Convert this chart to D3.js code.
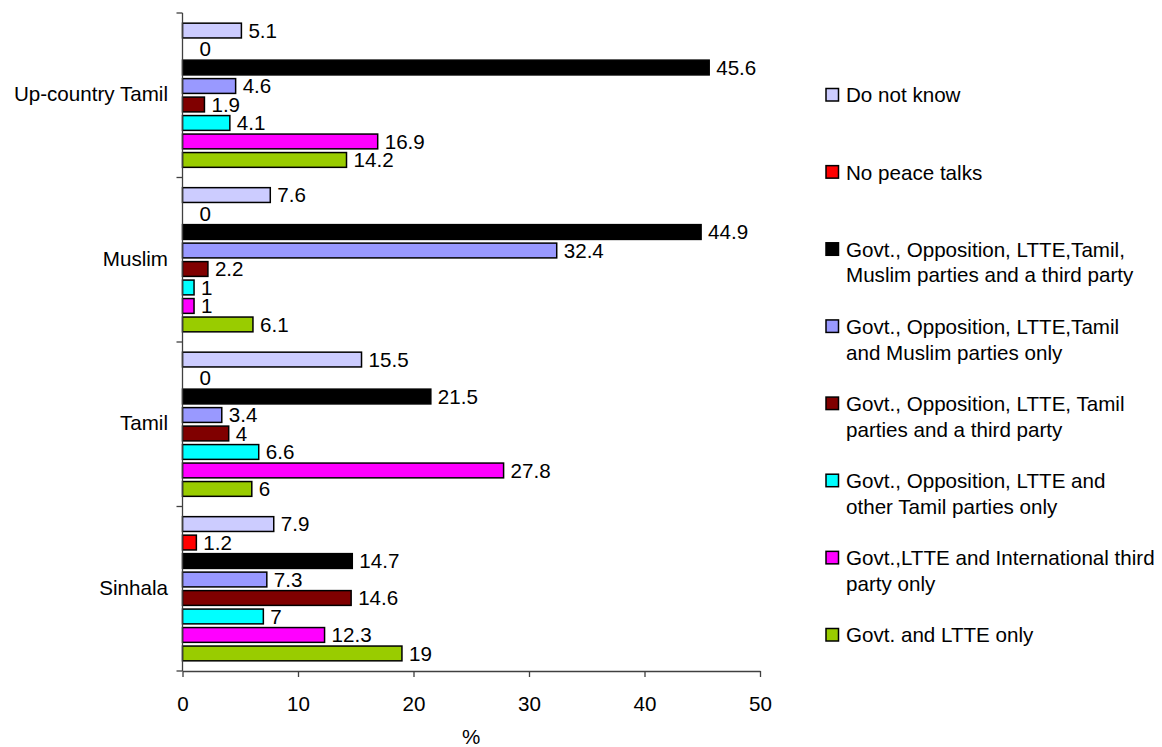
<!DOCTYPE html>
<html>
<head>
<meta charset="utf-8">
<style>
  body { margin: 0; background: #fff; font-family: "Liberation Sans", Arial, sans-serif; }
  svg text { font-family: "Liberation Sans", Arial, sans-serif; font-size: 20.6px; fill: #000; }
</style>
<title>Peace talks participants</title>
</head>
<body>
<script src="https://cdn.jsdelivr.net/npm/d3@7/dist/d3.min.js"></script>
<script>

// categories, top to bottom
var categories = ["Up-country Tamil", "Muslim", "Tamil", "Sinhala"];

// series, in the order the bars appear inside a group (top to bottom)
var seriesNames = [
  "Do not know",
  "No peace talks",
  "Govt., Opposition, LTTE,Tamil,\nMuslim parties and a third party",
  "Govt., Opposition, LTTE,Tamil\nand Muslim parties only",
  "Govt., Opposition, LTTE, Tamil\nparties and a third party",
  "Govt., Opposition, LTTE and\nother Tamil parties only",
  "Govt.,LTTE and International third\nparty only",
  "Govt. and LTTE only"
];
var seriesColors = ["#CCCCFF", "#FF0000", "#000000", "#9999FF", "#800000", "#00FFFF", "#FF00FF", "#99CC00"];

// values per series, one per category (Up-country Tamil, Muslim, Tamil, Sinhala)
var doNotKnow      = [5.1, 7.6, 15.5, 7.9];
var noPeaceTalks   = [0, 0, 0, 1.2];
var allPlusThird   = [45.6, 44.9, 21.5, 14.7];
var allTamilMuslim = [4.6, 32.4, 3.4, 7.3];
var tamilPlusThird = [1.9, 2.2, 4, 14.6];
var otherTamilOnly = [4.1, 1, 6.6, 7];
var intlThirdParty = [16.9, 1, 27.8, 12.3];
var govtLtteOnly   = [14.2, 6.1, 6, 19];
var seriesValues = [doNotKnow, noPeaceTalks, allPlusThird, allTamilMuslim,
                    tamilPlusThird, otherTamilOnly, intlThirdParty, govtLtteOnly];

var xTicks = [0, 10, 20, 30, 40, 50];

var W = 1162, H = 747;
var svg = d3.select("body").append("svg").attr("width", W).attr("height", H);

var x = d3.scaleLinear().domain([0, 50]).range([182.5, 760]);
var y0 = d3.scaleBand().domain(categories).range([13, 671]);
var y1 = d3.scaleBand().domain(d3.range(seriesNames.length))
  .range([0, y0.bandwidth()]).paddingInner(0.2).paddingOuter(0.55);

// bars
var groups = svg.append("g").selectAll("g")
  .data(categories)
  .enter().append("g")
    .attr("transform", d => "translate(0," + y0(d) + ")");

var barData = function(cat, ci) {
  return seriesValues.map((vals, si) => ({ s: si, v: vals[ci] }));
};

groups.selectAll("rect")
  .data(barData)
  .enter().filter(d => d.v > 0).append("rect")
    .attr("x", x(0))
    .attr("y", d => y1(d.s))
    .attr("width", d => x(d.v) - x(0))
    .attr("height", y1.bandwidth())
    .attr("fill", d => seriesColors[d.s])
    .attr("stroke", "#000")
    .attr("stroke-width", 1.5);

// value labels
groups.selectAll("text")
  .data(barData)
  .enter().append("text")
    .attr("x", d => x(d.v) + (d.v === 0 ? 17 : 7))
    .attr("y", d => y1(d.s) + y1.bandwidth() / 2)
    .attr("dy", "0.36em")
    .text(d => d.v);

// y axis: line and ticks at group boundaries
var axisColor = "#404040";
svg.append("line")
  .attr("x1", x(0)).attr("x2", x(0))
  .attr("y1", y0.range()[0]).attr("y2", y0.range()[1])
  .attr("stroke", axisColor).attr("stroke-width", 1.3);
var bounds = categories.map(c => y0(c)).concat([y0.range()[1]]);
svg.append("g").selectAll("line")
  .data(bounds)
  .enter().append("line")
    .attr("x1", x(0) - 6).attr("x2", x(0))
    .attr("y1", d => d).attr("y2", d => d)
    .attr("stroke", axisColor).attr("stroke-width", 1.3);

// category labels
svg.append("g").selectAll("text")
  .data(categories)
  .enter().append("text")
    .attr("x", 168)
    .attr("y", d => y0(d) + y0.bandwidth() / 2)
    .attr("dy", "0.3em")
    .attr("text-anchor", "end")
    .text(d => d);

// x axis
var xAxis = svg.append("g")
  .attr("transform", "translate(0," + y0.range()[1] + ")")
  .call(d3.axisBottom(x).tickValues(xTicks).tickSize(6).tickSizeOuter(0).tickPadding(19));
xAxis.select(".domain").attr("stroke", axisColor).attr("stroke-width", 1.3);
xAxis.selectAll(".tick line").attr("stroke", axisColor).attr("stroke-width", 1.3);
xAxis.selectAll("text").style("font-size", "20.6px").style("font-family", "'Liberation Sans', Arial, sans-serif").attr("fill", "#000");

svg.append("text")
  .attr("x", (x.range()[0] + x.range()[1]) / 2)
  .attr("y", 737)
  .attr("dy", "0.35em")
  .attr("text-anchor", "middle")
  .text("%");

// legend
var ly = d3.scalePoint().domain(d3.range(seriesNames.length)).range([95, 635]);
var legend = svg.append("g").selectAll("g")
  .data(seriesNames)
  .enter().append("g")
    .attr("transform", (d, i) => "translate(826," + ly(i) + ")");

legend.append("rect")
  .attr("x", 0).attr("y", -6.5)
  .attr("width", 12.5).attr("height", 12.5)
  .attr("fill", (d, i) => seriesColors[i])
  .attr("stroke", "#000").attr("stroke-width", 1.5);

legend.append("text")
  .attr("x", 20)
  .attr("y", 0)
  .selectAll("tspan")
  .data(d => d.split("\n"))
  .enter().append("tspan")
    .attr("x", 20)
    .attr("dy", (d, i) => i === 0 ? "0.36em" : "1.25em")
    .text(d => d);

</script>
</body>
</html>
